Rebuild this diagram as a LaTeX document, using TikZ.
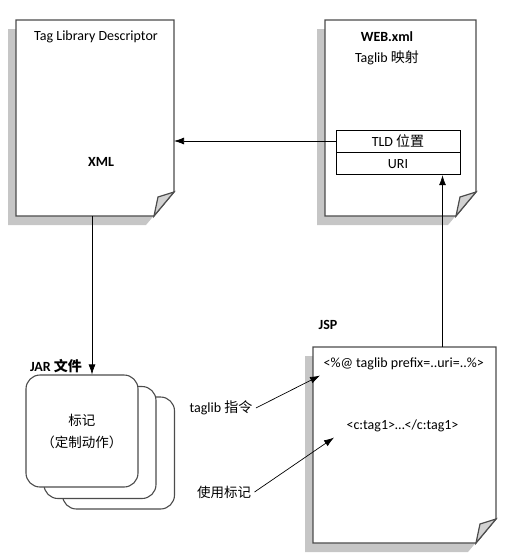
\documentclass[tikz,border=0pt]{standalone}
\usepackage{fontspec}
\setmainfont{Carlito}
\newfontfamily\cjk{Noto Sans CJK SC}
\usetikzlibrary{arrows.meta}
\usetikzlibrary{calc}
\newcommand\docsheet[1]{%
  \fill[gray!45] ($(#1.north west)+(-8,9)$) -- ($(#1.north east)+(-8,9)$) -- ($(#1.south east)+(-8,-15)$) -- ($(#1.south east)+(-28,9)$) -- ($(#1.south west)+(-8,9)$) -- cycle;
  \filldraw[sheet] (#1.north west) -- (#1.north east) -- ($(#1.south east)+(0,-24)$) -- ($(#1.south east)+(-20,0)$) -- (#1.south west) -- cycle;
  \filldraw[sheet,fill=gray!35] ($(#1.south east)+(0,-24)$) -- ($(#1.south east)+(-16,-19)$) -- ($(#1.south east)+(-20,0)$) -- cycle;}
\begin{document}
\begin{tikzpicture}[x=1pt,y=-1pt,font=\fontsize{14}{16}\selectfont,
  page/.style={inner sep=0,outer sep=0},
  sheet/.style={draw=black!70,fill=white,line width=1.2pt,line join=miter},
  tag/.style={draw=black!70,fill=white,line width=1.1pt,rounded corners=14pt,minimum width=112pt,minimum height=112pt},
  cell/.style={draw,fill=white,line width=0.8pt,minimum width=124pt,minimum height=22pt,inner sep=0},
  arr/.style={-{Latex[length=10pt,width=7pt]},line width=0.7pt}]
\useasboundingbox (0,0) rectangle (525,558);
% documents
\node[page,minimum width=158pt,minimum height=196pt] (tld) at (95,118) {};
\node[page,minimum width=151pt,minimum height=196pt] (web) at (400.5,118) {};
\node[page,minimum width=183pt,minimum height=196pt] (jsp) at (404.5,445) {};
\docsheet{tld}
\docsheet{web}
\docsheet{jsp}
\node (desc) at (96,37) {Tag Library Descriptor};
\node[font=\fontsize{14}{16}\bfseries] (xml) at (101,162) {XML};
\node[font=\fontsize{14}{16}\bfseries] (webxml) at (387,37) {WEB.xml};
\node (map) at (387,58) {Taglib {\cjk 映射}};
\node[cell] (loc) at (398,141) {TLD {\cjk 位置}};
\node[cell,anchor=north] (uri) at (loc.south) {URI};
% jar
\node[font=\fontsize{14}{16}\bfseries] (jar) at (56,366) {JAR {\cjk\bfseries 文件}};
\node[tag] (jar3) at (118.5,453) {};
\node[tag] (jar2) at (100,442.5) {};
\node[tag,align=center,font=\fontsize{13.5}{22}\cjk] (jar1) at (82,431) {标记\\（定制动作）};
% jsp
\node[font=\fontsize{14}{16}\bfseries] (jspname) at (328,325) {JSP};
\node[anchor=west] (prefix) at (320,364) {<\%@ taglib prefix=..uri=..\%>};
\node[anchor=west] (ctag) at (343,426) {<c:tag1>…</c:tag1>};
\node (dir) at (221,408) {taglib {\cjk 指令}};
\node[font=\fontsize{13.5}{16}\cjk] (use) at (224,492) {使用标记};
% arrows
\draw[arr] (loc.west) -- (loc.west -| tld.east);
\draw[arr] ([xshift=-3pt]tld.south) -- ([xshift=-3pt]tld.south |- jar1.north);
\draw[arr] ([xshift=38pt]jsp.north) -- ([xshift=38pt]jsp.north |- uri.south);
\draw[arr] (dir.east) -- ([yshift=-2pt]prefix.south west);
\draw[arr] (use.east) -- ([xshift=-9pt,yshift=-2pt]ctag.south west);
\end{tikzpicture}
\end{document}
